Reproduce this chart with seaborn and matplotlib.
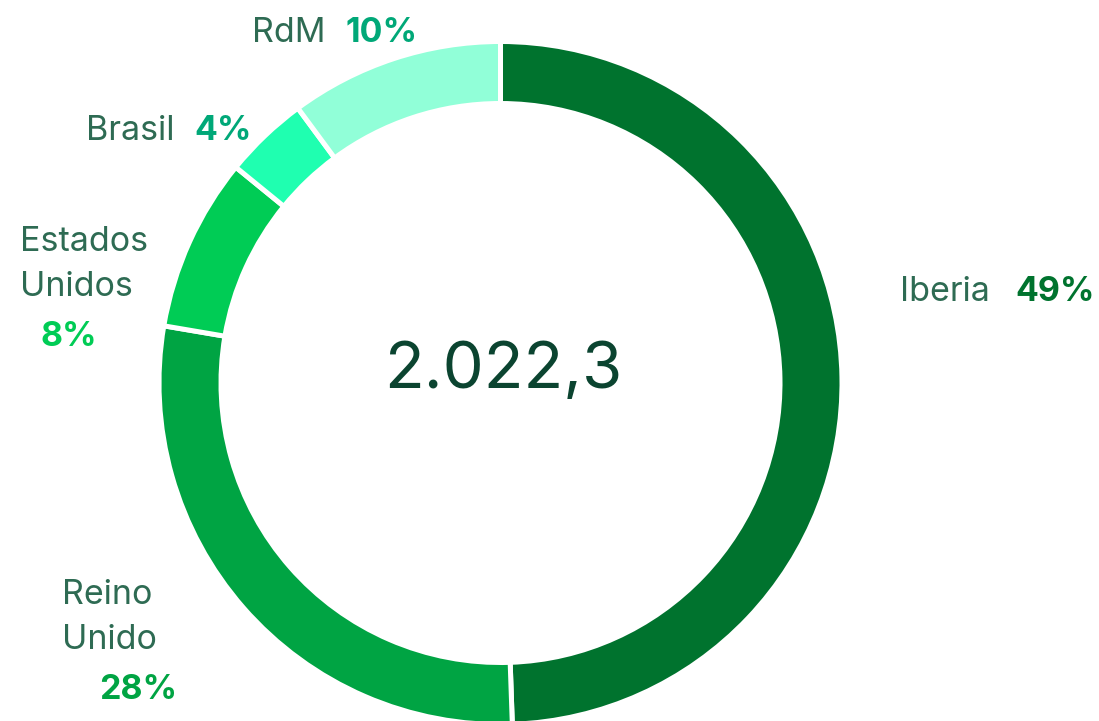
import matplotlib
matplotlib.use("Agg")
import matplotlib.pyplot as plt
import seaborn as sns

# data
regions = ["Iberia", "Reino\nUnido", "Estados\nUnidos", "Brasil", "RdM"]
shares = [49.4, 28.2, 8.2, 4.0, 10.1]
pct_labels = ["49%", "28%", "8%", "4%", "10%"]
total_label = "2.022,3"

ring_colors = ["#00732e", "#00a443", "#00cc55", "#1fffb0", "#91ffd8"]
pct_colors = ["#00732e", "#00a443", "#00cc55", "#00a878", "#00a878"]
name_color = "#2e6b53"

sns.set_theme(style="white")
plt.rcParams["font.family"] = ["Inter", "DejaVu Sans"]

W, H = 1099, 721
fig = plt.figure(figsize=(W / 100, H / 100), dpi=100)
ax = fig.add_axes([0, 0, 1, 1])

gap = 5  # px
ax.pie(shares, colors=ring_colors, startangle=90, counterclock=False,
       center=(500.5, H - 383), radius=339 + gap / 2, frame=True,
       wedgeprops=dict(width=57 + gap, edgecolor="white", linewidth=gap * 0.72))
ax.set_xlim(0, W)
ax.set_ylim(0, H)
ax.set_axis_off()

ax.text(503, H - 371, total_label, ha="center", va="center",
        fontsize=47, fontweight="normal", color="#0b4430")

# label placement in pixels: name left x, first baseline, pct right x, pct baseline
layout = {
    "Iberia": (900, 301, 1095, 301),
    "Reino\nUnido": (62, 604, 177, 699),
    "Estados\nUnidos": (20, 251, 97, 346),
    "Brasil": (86, 140, 252, 140),
    "RdM": (252, 42, 418, 42),
}
line_gap = 45
fs = 24.5
for name, pct, pc in zip(regions, pct_labels, pct_colors):
    nx, ny, px, py = layout[name]
    for i, line in enumerate(name.split("\n")):
        ax.text(nx, H - (ny + i * line_gap), line, ha="left", va="baseline",
                fontsize=fs, color=name_color)
    ax.text(px, H - py, pct, ha="right", va="baseline", fontsize=fs,
            fontweight="bold", color=pc)

fig.savefig("out.png", dpi=100)
